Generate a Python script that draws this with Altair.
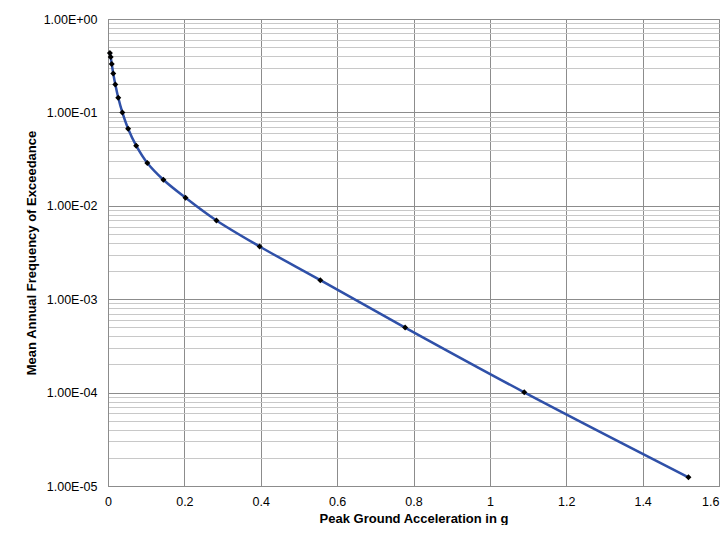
import altair as alt
import pandas as pd

# Data
pga = [0.005, 0.007, 0.0098, 0.0137, 0.0192, 0.0269, 0.0376, 0.0527, 0.0738,
       0.103, 0.145, 0.203, 0.284, 0.397, 0.556, 0.778, 1.09, 1.52]
freq = [0.432, 0.392, 0.330, 0.261, 0.199, 0.1435, 0.0999, 0.0668, 0.044,
        0.0287, 0.019, 0.0122, 0.00696, 0.00367, 0.0016, 0.000497, 0.0001007, 1.24e-5]

x_ticks = [0, 0.2, 0.4, 0.6, 0.8, 1.0, 1.2, 1.4, 1.6]
y_ticks = [1e-5, 2e-5, 3e-5, 4e-5, 5e-5, 6e-5, 7e-5, 8e-5, 9e-5,
           1e-4, 2e-4, 3e-4, 4e-4, 5e-4, 6e-4, 7e-4, 8e-4, 9e-4,
           1e-3, 2e-3, 3e-3, 4e-3, 5e-3, 6e-3, 7e-3, 8e-3, 9e-3,
           1e-2, 2e-2, 3e-2, 4e-2, 5e-2, 6e-2, 7e-2, 8e-2, 9e-2,
           1e-1, 2e-1, 3e-1, 4e-1, 5e-1, 6e-1, 7e-1, 8e-1, 9e-1, 1.0]

df = pd.DataFrame({"pga": pga, "freq": freq})

is_major = "abs(log(datum.value)/LN10 - round(log(datum.value)/LN10)) < 0.001"

x_enc = alt.X(
    "pga:Q",
    scale=alt.Scale(domain=[0, 1.6], nice=False, zero=False),
    axis=alt.Axis(
        values=x_ticks,
        labelExpr="round(datum.value*10)/10 + ''",
        labelAlign={"condition": {"test": "datum.value >= 1.55", "value": "right"}, "value": "center"},
        title="Peak Ground Acceleration in g",
        grid=True,
        gridColor="#8c8c8c",
        gridWidth=1,
        ticks=False,
        tickSize=0,
        labelPadding=9,
        labelFontSize=12.5,
        labelColor="#000000",
        labelFont="Liberation Sans",
        titleFont="Liberation Sans",
        titleFontSize=13,
        titleFontWeight="bold",
        titleColor="#000000",
        titlePadding=5,
        domainColor="#8c8c8c",
        labelFlush=False,
    ),
)

y_enc = alt.Y(
    "freq:Q",
    scale=alt.Scale(type="log", domain=[1e-5, 1.0], nice=False),
    axis=alt.Axis(
        values=y_ticks,
        labelExpr="(" + is_major + ") ? ('1.00E' + (datum.value >= 1 ? '+' : '-') + '0' + abs(round(log(datum.value)/LN10))) : ''",
        title="Mean Annual Frequency of Exceedance",
        grid=True,
        gridColor={"condition": {"test": is_major, "value": "#8c8c8c"}, "value": "#c8c8c8"},
        gridWidth=1,
        ticks=False,
        tickSize=0,
        labelPadding=11,
        labelFontSize=12.5,
        labelColor="#000000",
        labelFont="Liberation Sans",
        titleFont="Liberation Sans",
        titleFontSize=13,
        titleFontWeight="bold",
        titleColor="#000000",
        titlePadding=5,
        domainColor="#8c8c8c",
        labelFlush=False,
        labelOverlap=False,
    ),
)

base = alt.Chart(df)

line = base.mark_line(color="#2F50A8", strokeWidth=2.5, interpolate="catmull-rom").encode(
    x=x_enc, y=y_enc
)
points = base.mark_point(shape="diamond", filled=True, color="#000000", size=36, opacity=1).encode(
    x="pga:Q", y="freq:Q"
)

chart = (
    alt.layer(line, points)
    .properties(
        width=611,
        height=467,
        padding={"left": 100, "top": 11, "right": 1, "bottom": 39},
        autosize=alt.AutoSizeParams(type="none"),
        background="#ffffff",
    )
    .configure_view(stroke="#8c8c8c", strokeWidth=1)
)

chart.save("out.html", embed_options={"renderer": "svg", "actions": False})
